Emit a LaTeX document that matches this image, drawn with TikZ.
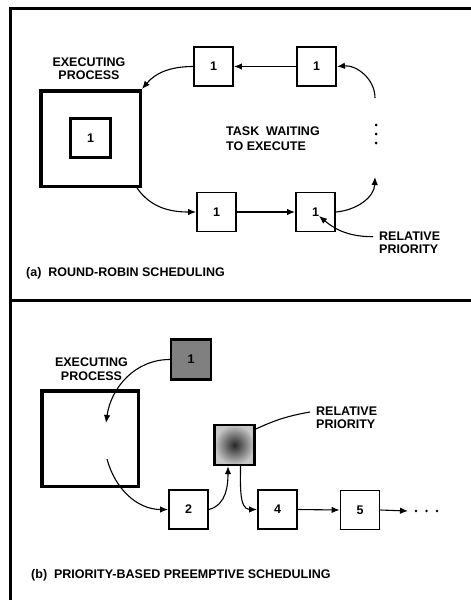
\documentclass[tikz,border=0pt]{standalone}
\usepackage{fontspec}
\setmainfont{Liberation Sans}
\usetikzlibrary{arrows.meta}
\begin{document}
\begin{tikzpicture}[x=1pt,y=-1pt,
  lbl/.style={font=\bfseries\fontsize{12.5}{13.5}\selectfont, inner sep=0pt},
  task/.style={draw, line width=1.9pt, minimum width=39pt, minimum height=39pt, inner sep=0pt,
               font=\bfseries\fontsize{12.5}{13.5}\selectfont},
  bigbox/.style={draw, line width=3.5pt, inner sep=0pt},
  arr/.style={line width=1.1pt, -{Latex[length=8pt,width=6.5pt]}},
  conn/.style={line width=1.1pt},
  frame/.style={line width=2.8pt, line join=miter},
  dot/.style={fill=black}]
\useasboundingbox (0,0) rectangle (471,600);

% frame
\draw[frame] (471,8.8) -- (10.7,8.8) -- (10.7,600);
\draw[frame] (10.7,300.5) -- (471,300.5);

% ---------------- panel (a)
\node[bigbox, minimum width=99.5pt, minimum height=95.5pt] (big) at (90.5,138.5) {};
\node[task, line width=2.6pt, minimum width=40pt, minimum height=39pt] (inner) at (90.5,138) {1};
\node[lbl, align=center] (execA) at (89,68.7) {EXECUTING\\PROCESS};

\node[task] (A) at (213.5,66.5) {1};
\node[task] (B) at (316.5,66.5) {1};
\node[task] (C) at (216.5,212) {1};
\node[task] (D) at (315.5,212) {1};

\node[lbl, align=left, anchor=west, font=\bfseries\fontsize{12.5}{15}\selectfont] (wait) at (226,138.3) {TASK\ \ WAITING\\TO EXECUTE};
\node[lbl, align=left, anchor=west] (rpA) at (379,242.7) {RELATIVE\\PRIORITY};
\node[lbl, anchor=base west] (capA) at (26,276.5) {(a)\ \ ROUND-ROBIN SCHEDULING};

\coordinate (u1) at (375,177);
\coordinate (u2) at (375,98);
\coordinate (pa) at (319,216);

\draw[arr] (B.west) -- (A.east);
\draw[arr] (A.west) to[out=180,in=50] (big.north east);
\draw[arr] ([xshift=-5pt]big.south east) to[out=-55,in=180] (C.west);
\draw[arr] (C.east) -- (D.west);
\draw[arr] (D.east) to[out=5,in=-92] (u1);
\draw[arr] (u2) to[out=90,in=5] (B.east);
\draw[arr] ([xshift=-6pt,yshift=6pt]rpA.west) to[out=180,in=-40] (pa);

\fill[dot] (376,125) circle (1.5);
\fill[dot] (376,134) circle (1.5);
\fill[dot] (376,143) circle (1.5);

% ---------------- panel (b)
\node[bigbox, minimum width=96.5pt, minimum height=95.5pt] (bigb) at (90,438.5) {};
\node[lbl, align=center] (execB) at (91.5,369) {EXECUTING\\PROCESS};

\node[task, fill=black!50, line width=2.4pt, minimum width=40pt, minimum height=40pt] (n1) at (191,359.5) {1};
\node[task, line width=2.4pt, minimum width=40pt, minimum height=40pt,
      inner color=black!85, outer color=black!22] (dark) at (234.5,445) {};
\node[task] (b2) at (188.5,509.5) {2};
\node[task] (b4) at (277.5,509.5) {4};
\node[task] (b5) at (360,510) {5};

\node[lbl, align=left, anchor=west] (rpB) at (316,418) {RELATIVE\\PRIORITY};
\node[lbl, anchor=base west] (capB) at (31,578.5) {(b)\ \ PRIORITY-BASED PREEMPTIVE SCHEDULING};

\coordinate (q1) at (106,423);
\coordinate (q2) at (107,459);
\coordinate (q3) at (408,511);

\draw[arr] (n1.west) to[out=180,in=82] (q1);
\draw[arr] (q2) to[out=-75,in=180] (b2.west);
\draw[arr] (b2.east) to[out=15,in=-90] ([xshift=-6.5pt]dark.south);
\draw[arr] ([xshift=6pt]dark.south) to[out=-90,in=180] (b4.west);
\draw[arr] (b4.east) -- (b5.west);
\draw[arr] (b5.east) -- (q3);
\draw[conn] ([xshift=-6pt,yshift=6pt]rpB.west) to[out=190,in=25] ([xshift=-2pt,yshift=15pt]dark.east);

\fill[dot] (416,511) circle (1.4);
\fill[dot] (426.5,511) circle (1.4);
\fill[dot] (437,511) circle (1.4);
\end{tikzpicture}
\end{document}
